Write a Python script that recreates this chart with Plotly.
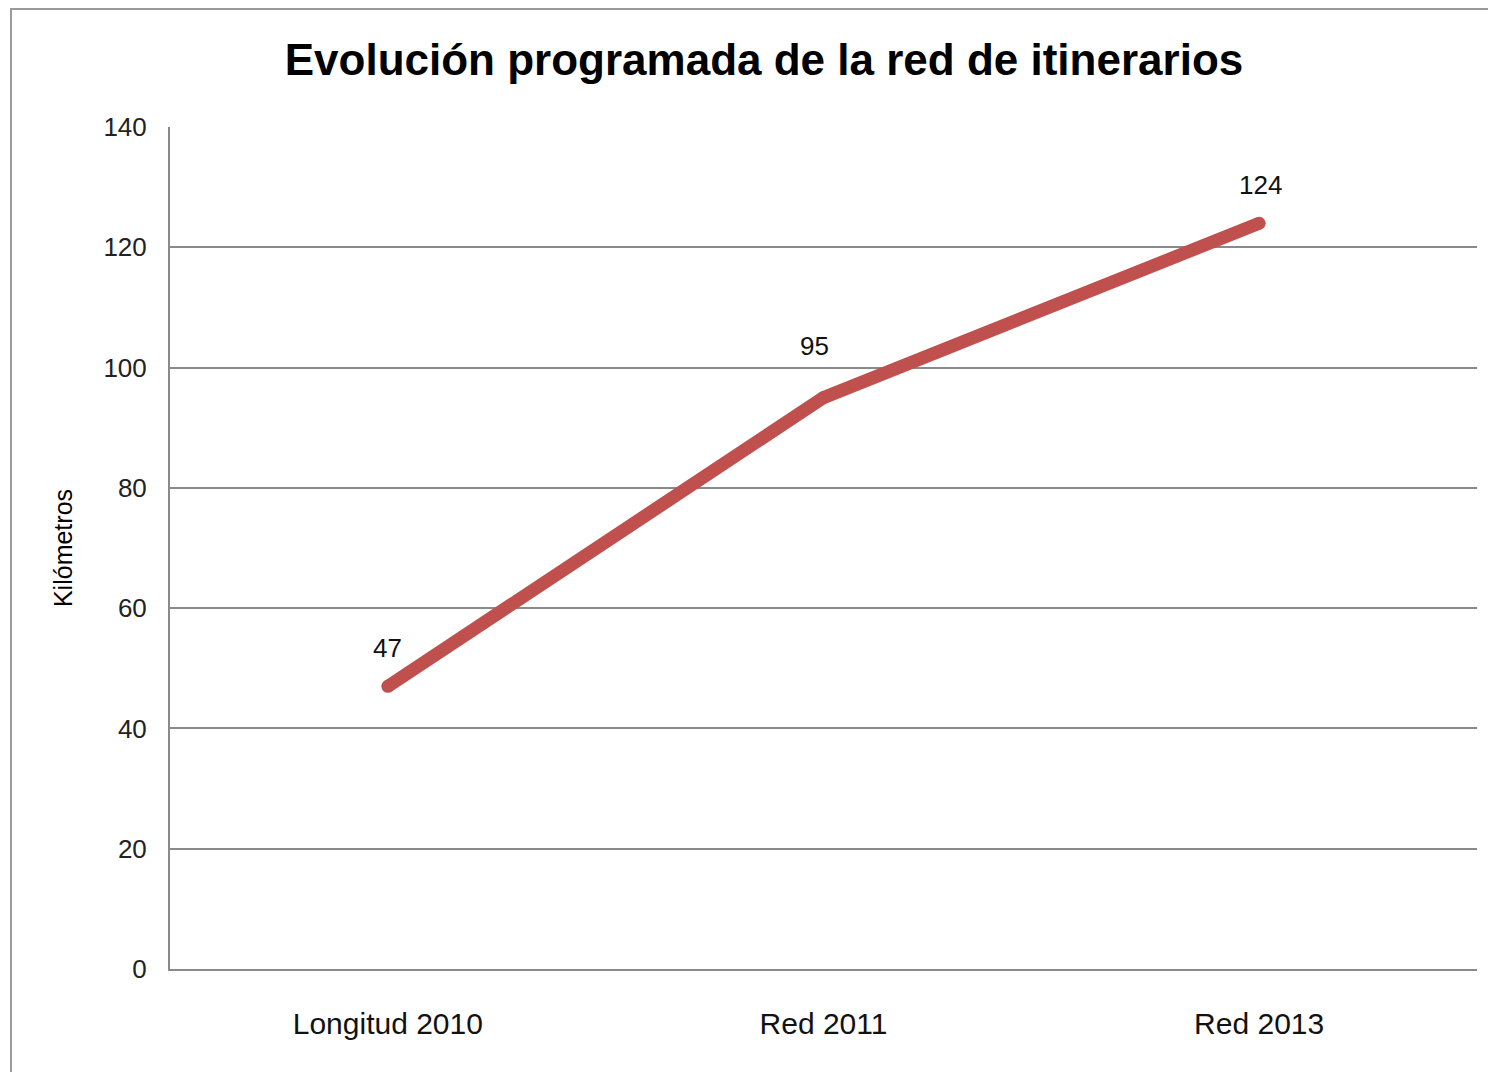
import plotly.graph_objects as go

categories = ["Longitud 2010", "Red 2011", "Red 2013"]
kilometros = [47, 95, 124]
y_ticks = [0, 20, 40, 60, 80, 100, 120, 140]

title_text = "Evolución programada de la red de itinerarios"
y_title = "Kilómetros"

# label offsets (px) for data labels
label_xshift = [0, -9, 1]
label_yshift = [21, 35, 21]

FONT = "Liberation Sans, Arial, sans-serif"

fig = go.Figure()
fig.add_trace(go.Scatter(
    x=categories, y=kilometros, mode="lines+markers",
    line=dict(color="#C0504D", width=13),
    marker=dict(color="#C0504D", size=13),
    showlegend=False, hoverinfo="skip",
))

for i, (c, v) in enumerate(zip(categories, kilometros)):
    fig.add_annotation(
        x=c, y=v, text=str(v), showarrow=False,
        xanchor="center", yanchor="bottom",
        xshift=label_xshift[i], yshift=label_yshift[i],
        font=dict(family=FONT, size=26, color="#111111"),
    )

# page is offset by the 8px body margin
OFF = 8
W, H = 1496, 1072
L, R, T, B = 170 - OFF, 27, 127 - OFF, 111
pw, ph = W - L - R, H - T - B

# outer chart border (extends past the right/bottom edge of the image)
fig.add_shape(
    type="rect", xref="paper", yref="paper",
    x0=(11 - OFF - L) / pw, x1=(1510 - L) / pw,
    y0=(H - B - 1090) / ph, y1=(H - B - 1) / ph,
    line=dict(color="#9a9a9a", width=2), layer="below",
)

fig.update_layout(
    width=W, height=H,
    margin=dict(l=L, r=R, t=T, b=B),
    paper_bgcolor="white", plot_bgcolor="white",
    title=dict(
        text="<b>" + title_text + "</b>",
        x=(764 - OFF) / W, xanchor="center",
        y=1 - (60 - OFF) / H, yanchor="middle",
        font=dict(family=FONT, size=44, color="#000000"),
    ),
    xaxis=dict(
        type="category", range=[-0.5, 2.5],
        showgrid=False, showline=True, linecolor="#8a8a8a", linewidth=2,
        ticks="outside", ticklen=27, tickcolor="rgba(255,255,255,0)",
        tickfont=dict(family=FONT, size=30, color="#111111"),
        automargin=False,
    ),
    yaxis=dict(
        range=[0, 140], tickvals=y_ticks,
        showgrid=True, gridcolor="#8a8a8a", gridwidth=2,
        showline=True, linecolor="#8a8a8a", linewidth=2,
        zeroline=False,
        ticks="outside", ticklen=16, tickcolor="rgba(255,255,255,0)",
        tickfont=dict(family=FONT, size=26, color="#222222"),
        title=dict(text=y_title, standoff=24,
                   font=dict(family=FONT, size=25, color="#000000")),
        automargin=False,
    ),
)

fig.write_html("out.html")
